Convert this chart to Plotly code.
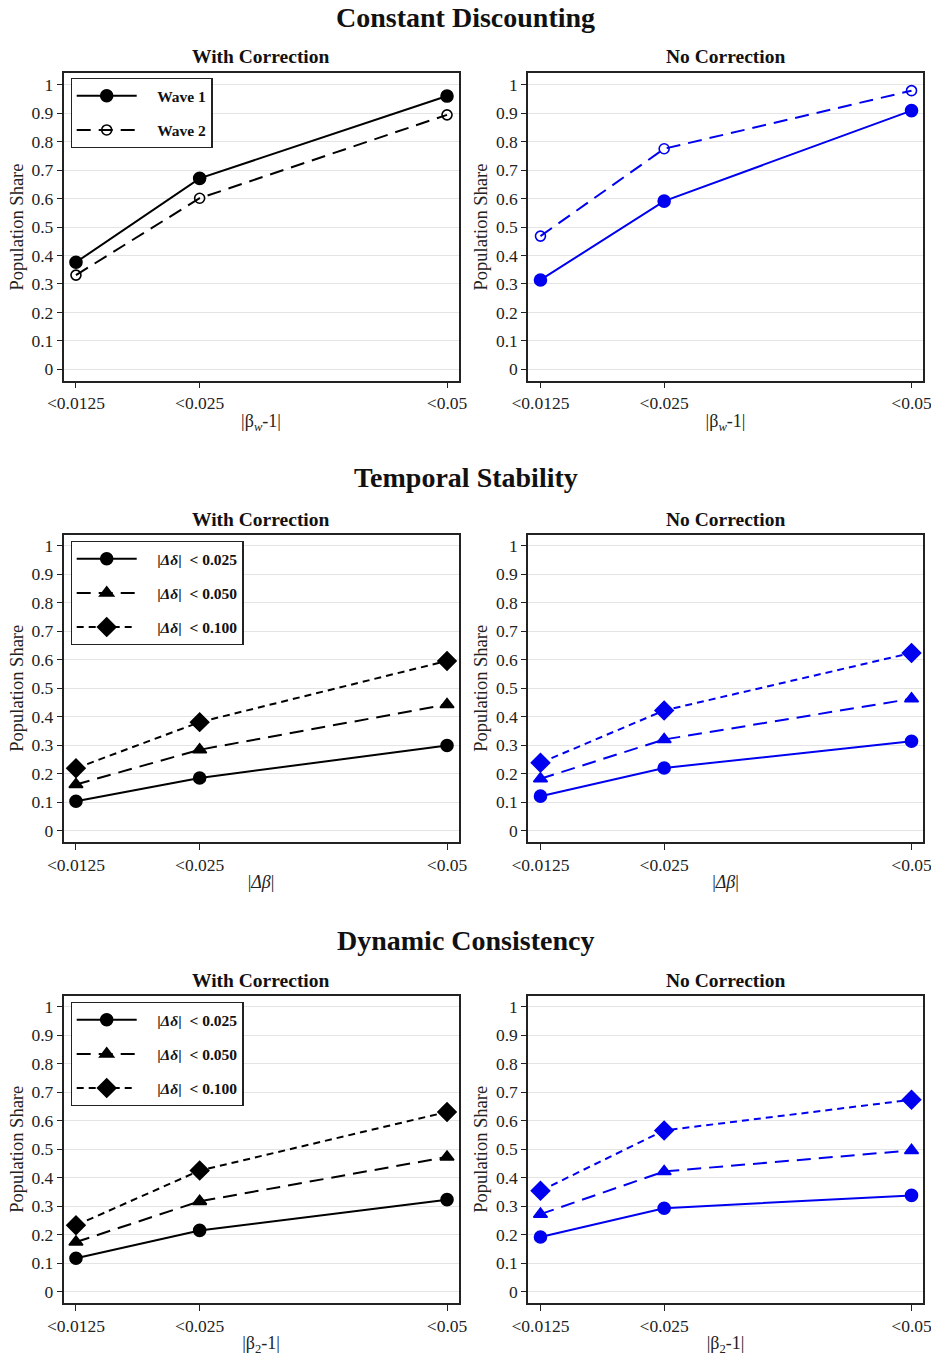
import plotly.graph_objects as go

# ---------------- data ----------------
x_vals = [0.0125, 0.025, 0.05]
x_labels = ["<0.0125", "<0.025", "<0.05"]
y_ticks = [0, 0.1, 0.2, 0.3, 0.4, 0.5, 0.6, 0.7, 0.8, 0.9, 1]
y_tick_labels = ["0", "0.1", "0.2", "0.3", "0.4", "0.5", "0.6", "0.7", "0.8", "0.9", "1"]

cd_with_w1 = [0.376, 0.671, 0.960]
cd_with_w2 = [0.331, 0.601, 0.894]
cd_no_w1 = [0.314, 0.591, 0.909]
cd_no_w2 = [0.468, 0.775, 0.979]

ts_with_025 = [0.103, 0.185, 0.299]
ts_with_050 = [0.162, 0.284, 0.443]
ts_with_100 = [0.219, 0.381, 0.596]
ts_no_025 = [0.121, 0.220, 0.314]
ts_no_050 = [0.182, 0.320, 0.463]
ts_no_100 = [0.238, 0.422, 0.624]

dc_with_025 = [0.117, 0.215, 0.323]
dc_with_050 = [0.174, 0.317, 0.473]
dc_with_100 = [0.233, 0.425, 0.631]
dc_no_025 = [0.192, 0.293, 0.338]
dc_no_050 = [0.272, 0.422, 0.496]
dc_no_100 = [0.354, 0.566, 0.674]

PAD = "\u00a0" * 4
wave_names = [PAD + "<b>Wave 1</b>", PAD + "<b>Wave 2</b>"]
delta_names = [PAD + "<b>|<i>Δδ</i>|  < 0.025</b>", PAD + "<b>|<i>Δδ</i>|  < 0.050</b>", PAD + "<b>|<i>Δδ</i>|  < 0.100</b>"]

row_titles = ["Constant Discounting", "Temporal Stability", "Dynamic Consistency"]
col_titles = ["With Correction", "No Correction"]
x_titles = ["|β<sub><i>w</i></sub>-1|", "|<i>Δβ</i>|", "|β<sub>2</sub>-1|"]

# ---------------- layout geometry ----------------
W, H = 931, 1360
FONT = "Liberation Serif"
BLACK = "#000000"
BLUE = "#0000f0"
TXT = "#222222"

col_px = [(63.5, 458.5), (528.0, 923.0)]
row_px = [(73.3, 380.7), (534.5, 842.0), (995.5, 1303.0)]
row_title_y = [18, 478, 940]
col_title_y = [57, 519, 980]

fig = go.Figure()

def ax_id(r, c):
    return r * 2 + c + 1

solid = "solid"
longdash = "14px,8px"
shortdash = "7px,5px"

panels = [
    (0, 0, [cd_with_w1, cd_with_w2], wave_names, [solid, longdash], ["circle", "circle-open"], BLACK, "legend"),
    (0, 1, [cd_no_w1, cd_no_w2], wave_names, [solid, longdash], ["circle", "circle-open"], BLUE, None),
    (1, 0, [ts_with_025, ts_with_050, ts_with_100], delta_names, [solid, longdash, shortdash], ["circle", "triangle-up", "diamond"], BLACK, "legend2"),
    (1, 1, [ts_no_025, ts_no_050, ts_no_100], delta_names, [solid, longdash, shortdash], ["circle", "triangle-up", "diamond"], BLUE, None),
    (2, 0, [dc_with_025, dc_with_050, dc_with_100], delta_names, [solid, longdash, shortdash], ["circle", "triangle-up", "diamond"], BLACK, "legend3"),
    (2, 1, [dc_no_025, dc_no_050, dc_no_100], delta_names, [solid, longdash, shortdash], ["circle", "triangle-up", "diamond"], BLUE, None),
]

sym_size = {"circle": 12, "circle-open": 10, "triangle-up": 12, "diamond": 14}

for (r, c, series, names, dashes, symbols, color, leg) in panels:
    k = ax_id(r, c)
    xa = "x" if k == 1 else f"x{k}"
    ya = "y" if k == 1 else f"y{k}"
    for i, ys in enumerate(series):
        tr = dict(
            x=x_vals, y=ys, mode="lines+markers", name=names[i],
            line=dict(color=color, width=2, dash=dashes[i]),
            marker=dict(symbol=symbols[i], size=sym_size[symbols[i]], color=color,
                        line=dict(color=color, width=1.6)),
            xaxis=xa, yaxis=ya,
            showlegend=leg is not None,
            legendgroup=f"{k}_{i}",
        )
        if leg is not None:
            tr["legend"] = leg
        fig.add_trace(go.Scatter(**tr))

layout = dict(
    width=W, height=H,
    margin=dict(l=0, r=0, t=0, b=0),
    paper_bgcolor="white", plot_bgcolor="white",
    font=dict(family=FONT, color=TXT, size=17),
)

for r in range(3):
    for c in range(2):
        k = ax_id(r, c)
        x0, x1 = col_px[c]
        t, b = row_px[r]
        xkey = "xaxis" if k == 1 else f"xaxis{k}"
        ykey = "yaxis" if k == 1 else f"yaxis{k}"
        layout[xkey] = dict(
            domain=[x0 / W, x1 / W],
            anchor="y" if k == 1 else f"y{k}",
            range=[0.01124, 0.05116],
            tickmode="array", tickvals=x_vals, ticktext=x_labels,
            ticks="outside", ticklen=6, tickwidth=1.2, tickcolor=TXT,
            showgrid=False, zeroline=False,
            showline=True, linecolor=TXT, linewidth=1.5, mirror=True,
            tickfont=dict(family=FONT, size=17.5, color=TXT),
            ticklabeloverflow="allow",
            title=dict(text=x_titles[r], font=dict(family=FONT, size=18, color=TXT), standoff=2),
            automargin=False,
        )
        layout[ykey] = dict(
            domain=[1 - b / H, 1 - t / H],
            anchor="x" if k == 1 else f"x{k}",
            range=[-0.04, 1.04],
            tickmode="array", tickvals=y_ticks, ticktext=y_tick_labels,
            ticks="outside", ticklen=5, tickwidth=1.2, tickcolor=TXT,
            showgrid=True, gridcolor="#e4e4e4", gridwidth=1,
            zeroline=False,
            showline=True, linecolor=TXT, linewidth=1.5, mirror=True,
            tickfont=dict(family=FONT, size=17.5, color=TXT),
            ticklabeloverflow="allow",
            title=dict(text="Population Share", font=dict(family=FONT, size=18.5, color=TXT), standoff=3),
            automargin=False,
        )

annotations = []
for r in range(3):
    annotations.append(dict(
        text=f"<b>{row_titles[r]}</b>", x=0.5, y=1 - row_title_y[r] / H,
        xref="paper", yref="paper", xanchor="center", yanchor="middle",
        showarrow=False, font=dict(family=FONT, size=28, color="#111111"),
    ))
    for c in range(2):
        x0, x1 = col_px[c]
        annotations.append(dict(
            text=f"<b>{col_titles[c]}</b>", x=(x0 + x1) / 2 / W, y=1 - col_title_y[r] / H,
            xref="paper", yref="paper", xanchor="center", yanchor="middle",
            showarrow=False, font=dict(family=FONT, size=19.5, color="#111111"),
        ))
layout["annotations"] = annotations

legend_tops = [78, 541, 1002]
for i, key in enumerate(["legend", "legend2", "legend3"]):
    layout[key] = dict(
        x=70.5 / W, y=1 - legend_tops[i] / H, xanchor="left", yanchor="top",
        xref="paper", yref="paper",
        bordercolor=TXT, borderwidth=1.2, bgcolor="white",
        font=dict(family=FONT, size=15.5, color="#111111"),
        itemwidth=60, traceorder="grouped", tracegroupgap=11,
    )

fig.update_layout(**layout)
fig.write_html("out.html")
